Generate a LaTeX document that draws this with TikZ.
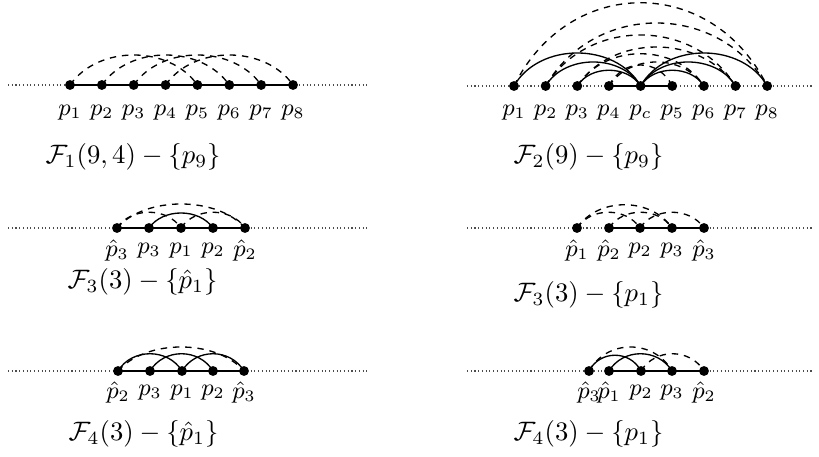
\documentclass[tikz,border=0pt]{standalone}
\begin{document}
\begin{tikzpicture}[x=0.375pt,y=-0.375pt,
  dotnode/.style={circle,fill=black,inner sep=0pt,minimum size=3.7pt},
  labtxt/.style={inner sep=0pt,font=\fontsize{8.6}{10}\selectfont},
  captxt/.style={anchor=west,inner sep=0pt},
  mainline/.style={line width=0.6pt},
  railline/.style={densely dotted,line width=0.4pt,black!70},
  sarc/.style={line width=0.5pt},
  darc/.style={line width=0.5pt,dash pattern=on 2.4pt off 2.2pt}]
\useasboundingbox (0,0) rectangle (819,457);

% ---------- Panel 1 ----------
\coordinate (r1a) at (8,85); \coordinate (r1b) at (370,85);
\draw[railline] (r1a) -- (r1b);
\foreach \i in {1,...,8}{
  \node[dotnode] (a\i) at ({70+31.86*(\i-1)},85) {};
  \node[labtxt] (la\i) at ({70+31.86*(\i-1)},113) {$p_{\i}$};
}
\draw[mainline] (a1.center) -- (a8.center);
\foreach \i [evaluate=\i as \j using int(\i+4)] in {1,...,4}
  \draw[darc] (a\i.center) .. controls +(28,-40) and +(-28,-40) .. (a\j.center);
\node[captxt] (cap1) at (45,157) {$\mathcal{F}_1(9,4)-\{p_9\}$};

% ---------- Panel 2 ----------
\coordinate (r2a) at (467,86); \coordinate (r2b) at (813,86);
\draw[railline] (r2a) -- (r2b);
\foreach \n/\k/\t in {b1/0/p_1,b2/1/p_2,b3/2/p_3,b4/3/p_4,bc/4/p_c,b5/5/p_5,b6/6/p_6,b7/7/p_7,b8/8/p_8}{
  \node[dotnode] (\n) at ({514+31.65*\k},86) {};
  \node[labtxt] (l\n) at ({514+31.65*\k},113) {$\t$};
}
\draw[mainline] (b4.center) -- (b5.center);
\draw[sarc] (b1.center) .. controls +(25,-44) and +(-25,-44) .. (bc.center);
\draw[sarc] (b2.center) .. controls +(19,-32) and +(-19,-32) .. (bc.center);
\draw[sarc] (b3.center) .. controls +(13,-21) and +(-13,-21) .. (bc.center);
\draw[sarc] (bc.center) .. controls +(13,-21) and +(-13,-21) .. (b6.center);
\draw[sarc] (bc.center) .. controls +(19,-32) and +(-19,-32) .. (b7.center);
\draw[sarc] (bc.center) .. controls +(25,-44) and +(-25,-44) .. (b8.center);
\draw[darc] (b1.center) .. controls +(55,-111) and +(-55,-111) .. (b8.center);
\draw[darc] (b2.center) .. controls +(49,-84) and +(-49,-84) .. (b8.center);
\draw[darc] (b2.center) .. controls +(42,-68) and +(-42,-68) .. (b7.center);
\draw[darc] (b3.center) .. controls +(35,-52) and +(-35,-52) .. (b7.center);
\draw[darc] (b3.center) .. controls +(28,-43) and +(-28,-43) .. (b6.center);
\draw[darc] (b4.center) .. controls +(21,-32) and +(-21,-32) .. (b6.center);
\draw[darc] (b4.center) .. controls +(14,-28) and +(-14,-28) .. (b5.center);
\node[captxt] (cap2) at (513,157) {$\mathcal{F}_2(9)-\{p_9\}$};

% ---------- Panel 3 left ----------
\coordinate (r3a) at (8,228); \coordinate (r3b) at (370,228);
\draw[railline] (r3a) -- (r3b);
\foreach \n/\x/\t in {c1/117/\hat p_3,c2/149/p_3,c3/181/p_1,c4/213/p_2,c5/245/\hat p_2}{
  \node[dotnode] (\n) at (\x,228) {};
  \node[labtxt] (l\n) at (\x,251) {$\t$};
}
\draw[mainline] (c1.center) -- (c5.center);
\draw[sarc] (c2.center) .. controls +(14,-20) and +(-14,-20) .. (c4.center);
\draw[darc] (c1.center) .. controls +(28,-32) and +(-28,-32) .. (c5.center);
\draw[darc] (c1.center) .. controls +(14,-21) and +(-14,-21) .. (c3.center);
\draw[darc] (c3.center) .. controls +(14,-21) and +(-14,-21) .. (c5.center);
\node[captxt] (cap3) at (67,282) {$\mathcal{F}_3(3)-\{\hat p_1\}$};

% ---------- Panel 3 right ----------
\coordinate (r4a) at (467,228); \coordinate (r4b) at (813,228);
\draw[railline] (r4a) -- (r4b);
\foreach \n/\x/\t in {d1/577/\hat p_1,d2/609/\hat p_2,d3/640/p_2,d4/672/p_3,d5/704/\hat p_3}{
  \node[dotnode] (\n) at (\x,228) {};
  \node[labtxt] (l\n) at (\x,251) {$\t$};
}
\draw[mainline] (d2.center) -- (d5.center);
\draw[darc] (d1.center) .. controls +(21,-31) and +(-21,-31) .. (d4.center);
\draw[darc] (d1.center) .. controls +(14,-21) and +(-14,-21) .. (d3.center);
\draw[darc] (d2.center) .. controls +(14,-21) and +(-14,-21) .. (d4.center);
\draw[darc] (d3.center) .. controls +(14,-21) and +(-14,-21) .. (d5.center);
\node[captxt] (cap4) at (513,295) {$\mathcal{F}_3(3)-\{p_1\}$};

% ---------- Panel 4 left ----------
\coordinate (r5a) at (8,371); \coordinate (r5b) at (370,371);
\draw[railline] (r5a) -- (r5b);
\foreach \n/\x/\t in {e1/118/\hat p_2,e2/150/p_3,e3/182/p_1,e4/213/p_2,e5/244/\hat p_3}{
  \node[dotnode] (\n) at (\x,371) {};
  \node[labtxt] (l\n) at (\x,393) {$\t$};
}
\draw[mainline] (e1.center) -- (e5.center);
\draw[sarc] (e1.center) .. controls +(14,-23) and +(-14,-23) .. (e3.center);
\draw[sarc] (e2.center) .. controls +(14,-23) and +(-14,-23) .. (e4.center);
\draw[sarc] (e3.center) .. controls +(14,-23) and +(-14,-23) .. (e5.center);
\draw[darc] (e1.center) .. controls +(28,-32) and +(-28,-32) .. (e5.center);
\node[captxt] (cap5) at (68,434) {$\mathcal{F}_4(3)-\{\hat p_1\}$};

% ---------- Panel 4 right ----------
\coordinate (r6a) at (467,371); \coordinate (r6b) at (813,371);
\draw[railline] (r6a) -- (r6b);
\foreach \n/\x/\t in {f1/589/\hat p_3,f2/609/\hat p_1,f3/641/p_2,f4/672/p_3,f5/704/\hat p_2}{
  \node[dotnode] (\n) at (\x,371) {};
  \node[labtxt] (l\n) at (\x,393) {$\t$};
}
\draw[mainline] (f2.center) -- (f5.center);
\draw[sarc] (f1.center) .. controls +(11,-21) and +(-11,-21) .. (f3.center);
\draw[sarc] (f2.center) .. controls +(14,-23) and +(-14,-23) .. (f4.center);
\draw[darc] (f1.center) .. controls +(18,-32) and +(-18,-32) .. (f4.center);
\draw[darc] (f3.center) .. controls +(14,-23) and +(-14,-23) .. (f5.center);
\node[captxt] (cap6) at (513,434) {$\mathcal{F}_4(3)-\{p_1\}$};
\end{tikzpicture}
\end{document}
